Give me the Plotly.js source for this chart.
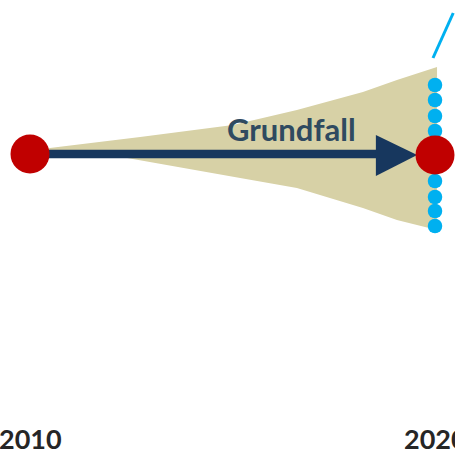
<!DOCTYPE html>
<html>
<head>
<meta charset="utf-8">
<script src="https://cdn.plot.ly/plotly-3.0.1.min.js"></script>
<style>html,body{margin:0;padding:0;background:#fff;}#chart{width:455px;height:450px;}</style>
</head>
<body>
<div id="chart"></div>
<script>
// Index scale: baseline 2010 = 100
const yearTicks = [2010, 2020];
const yearLabels = ['2010', '2020'];

// Uncertainty fan (upper and lower edge)
const fanUpperYears = [2010.25, 2010.49, 2012.72, 2015.01, 2016.59, 2018.22, 2019.06, 2020.05];
const fanUpper      = [101.5,   103,     108.5,   114.5,   122,     131,     137,     143.5];
const fanLowerYears = [2010.25, 2012.4, 2015.19, 2016.59, 2018.22, 2019.06, 2020.05];
const fanLower      = [100,     98,     88,      83,      73,      67,      62];

// Base case ("Grundfall") path
const baseYears = [2010, 2020];
const baseValues = [100, 99.5];
const arrowShaftYears = [2010, 2018.55];
const arrowShaftValues = [100, 100];
const arrowHeadYears = [2018.54, 2018.54, 2019.56];
const arrowHeadValues = [109.5, 89, 99.5];
const baseLabel = 'Grundfall';
const baseLabelYear = 2016.45;
const baseLabelValue = 112.5;

// Alternative outcomes in 2020
const altYears = [2020, 2020, 2020, 2020, 2020, 2020, 2020, 2020];
const altValues = [134.5, 127, 119, 111.5, 86.5, 78.5, 71.5, 64];

// Upward line at top right
const lineYears = [2019.95, 2020.45];
const lineValues = [148, 170.5];

// Year label row (index units)
const yearLabelValue = -42;

const fanX = fanUpperYears.concat(fanLowerYears.slice().reverse());
const fanY = fanUpper.concat(fanLower.slice().reverse());

const traces = [
  {x: fanX, y: fanY, type: 'scatter', mode: 'lines', fill: 'toself',
   fillcolor: '#d7d1a6', line: {width: 0, color: '#d7d1a6'}, hoverinfo: 'skip'},
  {x: lineYears, y: lineValues, type: 'scatter', mode: 'lines',
   line: {color: '#00b0f0', width: 3}},
  {x: altYears, y: altValues, type: 'scatter', mode: 'markers',
   marker: {color: '#00b0f0', size: 14.5, line: {width: 0}}},
  {x: arrowShaftYears, y: arrowShaftValues, type: 'scatter', mode: 'lines',
   line: {color: '#17375e', width: 8.5}},
  {x: arrowHeadYears, y: arrowHeadValues, type: 'scatter', mode: 'lines', fill: 'toself',
   fillcolor: '#17375e', line: {width: 0, color: '#17375e'}},
  {x: baseYears, y: baseValues, type: 'scatter', mode: 'markers',
   marker: {color: '#c00000', size: 39, line: {width: 0}}}
];

const annotations = [
  {x: baseLabelYear, y: baseLabelValue, xref: 'x', yref: 'y', text: baseLabel,
   showarrow: false, font: {family: 'Lato, "Open Sans", sans-serif', size: 31, color: '#2f4a60', weight: 700}}
];
yearTicks.forEach((t, i) => {
  annotations.push({x: t, y: yearLabelValue, xref: 'x', yref: 'y', text: yearLabels[i], showarrow: false,
    xanchor: 'center', yanchor: 'middle',
    font: {family: 'Lato, "Open Sans", sans-serif', size: 27, color: '#262626', weight: 700}});
});

const layout = {
  width: 455, height: 450,
  margin: {l: 0, r: 0, t: 0, b: 0},
  paper_bgcolor: '#ffffff', plot_bgcolor: '#ffffff',
  showlegend: false,
  xaxis: {range: [2009.2593, 2020.4938], visible: false, fixedrange: true},
  yaxis: {range: [-48, 177], visible: false, fixedrange: true},
  annotations: annotations
};

Plotly.newPlot('chart', traces, layout, {staticPlot: true, displayModeBar: false});
</script>
</body>
</html>
